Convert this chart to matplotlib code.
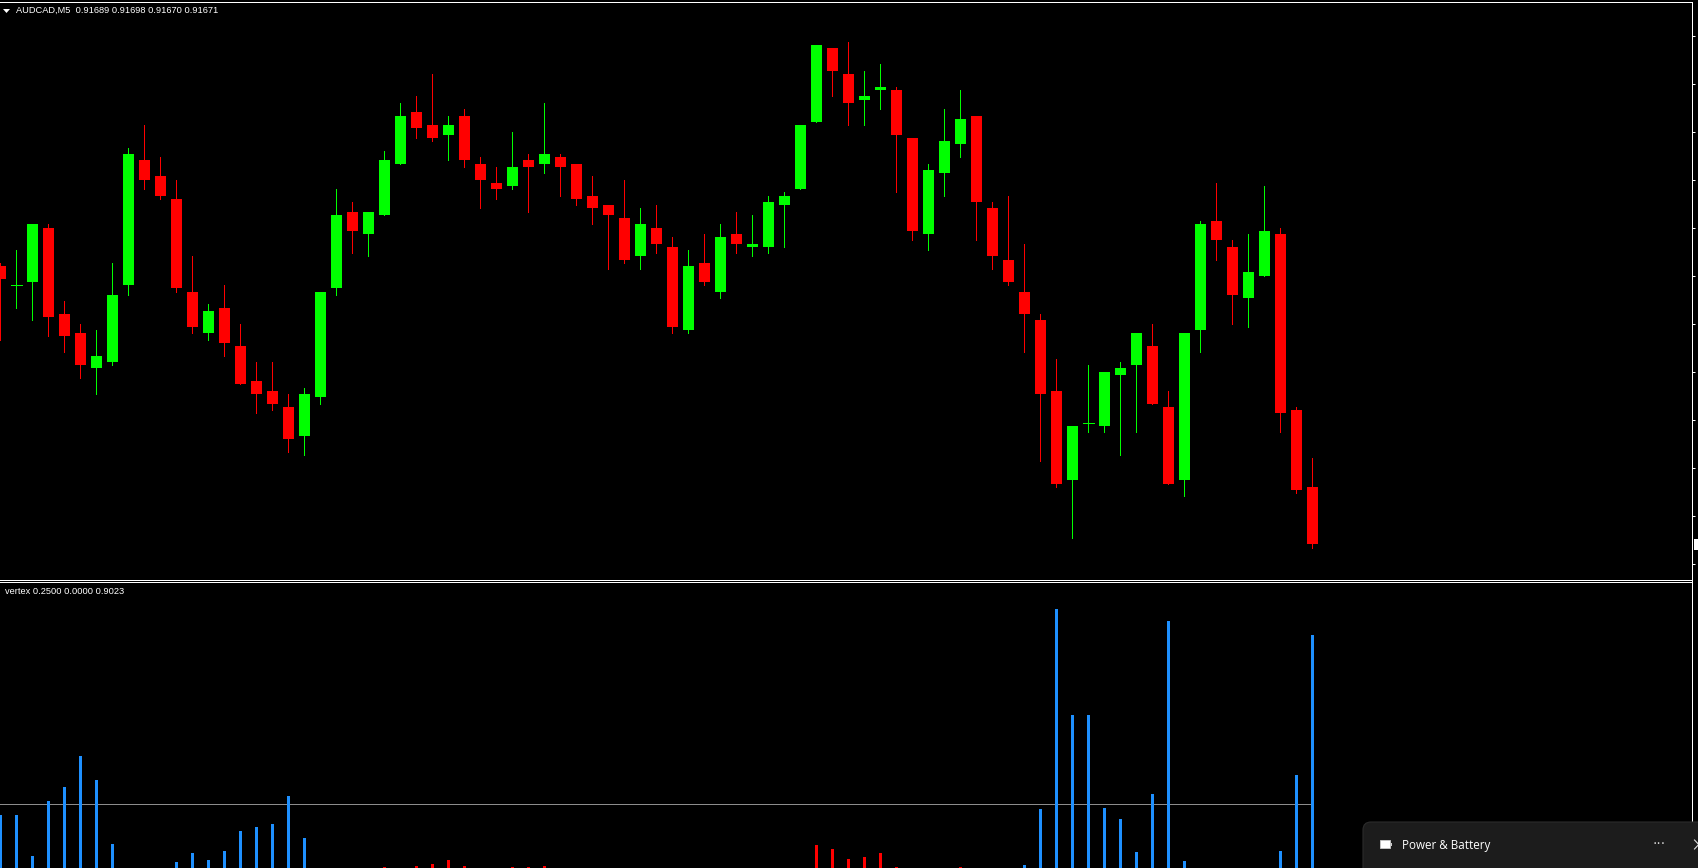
import matplotlib
matplotlib.use('Agg')
import matplotlib.pyplot as plt
from matplotlib.patches import FancyBboxPatch, Rectangle, Polygon
from matplotlib.lines import Line2D
from matplotlib.transforms import Affine2D

W, H = 1698, 868

# AUDCAD M5 candles, prices in 1e-5 units
opens = [91758, 91752, 91753, 91770, 91743, 91737, 91726, 91728, 91752, 91791,
         91786, 91779, 91750, 91737, 91745, 91733, 91722, 91719, 91714, 91705,
         91717, 91751, 91775, 91768, 91774, 91790, 91806, 91802, 91799, 91805,
         91790, 91784, 91783, 91791, 91790, 91792, 91790, 91780, 91777, 91773,
         91761, 91770, 91764, 91738, 91759, 91750, 91768, 91764, 91764, 91777,
         91782, 91803, 91826, 91818, 91810, 91813, 91813, 91798, 91768, 91787,
         91796, 91805, 91776, 91760, 91750, 91741, 91719, 91691, 91709, 91708,
         91724, 91727, 91733, 91714, 91691, 91738, 91772, 91764, 91748, 91755,
         91768, 91713, 91689]
highs = [91759, 91763, 91771, 91771, 91747, 91740, 91738, 91759, 91795, 91802,
         91792, 91785, 91761, 91746, 91752, 91740, 91728, 91728, 91718, 91720,
         91750, 91782, 91778, 91775, 91794, 91809, 91811, 91818, 91805, 91807,
         91792, 91789, 91800, 91793, 91809, 91793, 91790, 91786, 91777, 91785,
         91776, 91777, 91767, 91763, 91768, 91771, 91775, 91774, 91780, 91781,
         91802, 91827, 91826, 91828, 91819, 91821, 91814, 91798, 91790, 91807,
         91813, 91805, 91778, 91780, 91765, 91743, 91729, 91708, 91727, 91725,
         91728, 91737, 91740, 91719, 91737, 91772, 91784, 91766, 91768, 91783,
         91770, 91714, 91698]
lows = [91735, 91745, 91741, 91736, 91731, 91723, 91718, 91727, 91749, 91782,
        91779, 91750, 91737, 91735, 91730, 91721, 91712, 91713, 91700, 91699,
        91715, 91749, 91762, 91761, 91774, 91790, 91798, 91797, 91791, 91789,
        91776, 91779, 91782, 91775, 91787, 91780, 91777, 91771, 91757, 91759,
        91757, 91762, 91737, 91737, 91752, 91748, 91762, 91761, 91762, 91764,
        91782, 91803, 91811, 91802, 91802, 91807, 91781, 91766, 91763, 91780,
        91792, 91766, 91757, 91752, 91731, 91697, 91689, 91673, 91706, 91706,
        91699, 91706, 91715, 91690, 91686, 91731, 91760, 91740, 91739, 91755,
        91706, 91687, 91670]
closes = [91754, 91752, 91771, 91742, 91736, 91727, 91730, 91749, 91793, 91785,
          91780, 91751, 91739, 91744, 91734, 91721, 91718, 91715, 91704, 91718,
          91750, 91774, 91769, 91775, 91791, 91805, 91801, 91798, 91802, 91791,
          91785, 91782, 91789, 91789, 91793, 91789, 91779, 91776, 91774, 91760,
          91771, 91765, 91739, 91758, 91753, 91767, 91765, 91765, 91778, 91780,
          91802, 91827, 91819, 91809, 91811, 91814, 91799, 91769, 91788, 91797,
          91804, 91778, 91761, 91753, 91743, 91718, 91690, 91708, 91709, 91725,
          91726, 91737, 91715, 91690, 91737, 91771, 91766, 91749, 91756, 91769,
          91712, 91688, 91671]

# vertex indicator histogram
blue_idx = [0, 1, 2, 3, 4, 5, 6, 7, 11, 12, 13, 14, 15, 16, 17, 18, 19,
            64, 65, 66, 67, 68, 69, 70, 71, 72, 73, 74, 80, 81, 82]
blue_val = [0.2089, 0.2089, 0.0509, 0.2628, 0.3168, 0.4362, 0.3437, 0.0971,
            0.0277, 0.0624, 0.0355, 0.0701, 0.1472, 0.1626, 0.1742, 0.2821, 0.1202,
            0.0162, 0.2320, 1.0027, 0.5942, 0.5942, 0.2358, 0.1934, 0.0663,
            0.2898, 0.9565, 0.0316, 0.0701, 0.3630, 0.9023]
red_idx = [24, 26, 27, 28, 29, 32, 33, 34, 51, 52, 53, 54, 55, 56, 60]
red_val = [0.0085, 0.0123, 0.0200, 0.0355, 0.0123, 0.0085, 0.0085, 0.0123,
           0.0933, 0.0778, 0.0393, 0.0470, 0.0624, 0.0085, 0.0085]
level = 0.25

price_ticks = [91830, 91815, 91800, 91785, 91770, 91755, 91740, 91725, 91710, 91695, 91680, 91665]

fig = plt.figure(figsize=(W / 100, H / 100), dpi=100, facecolor='black')
plt.rcParams['font.family'] = ['Liberation Sans', 'DejaVu Sans']

# overlay transform: top-left pixel coordinates
px = Affine2D().scale(1, -1).translate(0, H)


def make_axes(top, bottom):
    ax = fig.add_axes([0, 1 - bottom / H, 1692 / W, (bottom - top) / H], facecolor='black')
    ax.set_xlim(-0.3 / 16, 1691.7 / 16)
    ax.set_xticks([])
    for side in ['left', 'bottom', 'top']:
        ax.spines[side].set_visible(False)
    ax.spines['right'].set_color('white')
    ax.spines['right'].set_linewidth(0.72)
    return ax


# price panel
ax1 = make_axes(3, 581)
ax1.set_ylim(91659.56, 91840.19)
for i in range(len(opens)):
    up = closes[i] >= opens[i]
    color = '#00ff00' if up else '#ff0000'
    ax1.vlines(i, lows[i], highs[i], color=color, linewidth=0.72, antialiased=False)
    if opens[i] == closes[i]:
        ax1.hlines(opens[i], i - 5.5 / 16, i + 5.5 / 16, color=color, linewidth=0.72, antialiased=False)
    else:
        ax1.bar(i, abs(closes[i] - opens[i]), 11 / 16, min(opens[i], closes[i]),
                color=color, linewidth=0, antialiased=False)
ax1.yaxis.tick_right()
ax1.set_yticks(price_ticks)
ax1.set_yticklabels([])
ax1.tick_params(axis='y', color='white', length=2.2, width=0.72)

# indicator panel
ax2 = make_axes(583, 868)
ax2.set_ylim((869.2 - 868) / 259.5, (869.2 - 583) / 259.5)
ax2.set_yticks([])
ax2.hlines(level, -0.3 / 16, 82, color='#8c8c8c', linewidth=0.72, antialiased=False)
ax2.bar(blue_idx, blue_val, 3 / 16, color='#1e90ff', linewidth=0, antialiased=False, zorder=3)
ax2.bar(red_idx, red_val, 3 / 16, color='#ff0000', linewidth=0, antialiased=False, zorder=3)

# frame lines of both panels, one pixel each
for row in [2, 580, 582]:
    fig.add_artist(Rectangle((0, row), 1693, 1, transform=px, facecolor='white', edgecolor='none',
                             antialiased=False, zorder=4))

# chart labels
fig.text(15.5, 10.5, 'AUDCAD,M5  0.91689 0.91698 0.91670 0.91671', transform=px, color='white',
         fontsize=6.7, va='center', ha='left')
fig.text(5, 592, 'vertex 0.2500 0.0000 0.9023', transform=px, color='white',
         fontsize=6.7, va='center', ha='left')
fig.add_artist(Polygon([(3, 9), (10, 9), (6.5, 13)], closed=True, transform=px, facecolor='white',
                       edgecolor='none'))

# bid marker on the price scale
fig.add_artist(Rectangle((1694, 539), 4, 11, transform=px, facecolor='white', edgecolor='none'))

# Windows notification popup
popup = FancyBboxPatch((1363, 822), 360, 80, boxstyle='round,pad=0,rounding_size=8',
                       transform=px, facecolor='#1c1c1c', edgecolor='#2c2c2c', linewidth=0.8, zorder=5)
fig.add_artist(popup)
fig.add_artist(Rectangle((1380, 840), 10, 8, transform=px, facecolor='white', edgecolor='#cccccc',
                         linewidth=0.6, zorder=6))
fig.add_artist(Rectangle((1390.5, 842.5), 1.5, 3, transform=px, facecolor='#cccccc', edgecolor='none', zorder=6))
fig.text(1402, 846, 'Power & Battery', transform=px, color='white', fontsize=8.4, family='Open Sans',
         va='center', ha='left', zorder=6)
fig.text(1659, 844, '\u00b7\u00b7\u00b7', transform=px, color='#d0d0d0', fontsize=10, family='DejaVu Sans',
         va='center', ha='center', zorder=6)
fig.add_artist(Line2D([1694.5, 1703], [840, 849], transform=px, color='#e0e0e0', linewidth=0.8, zorder=6))
fig.add_artist(Line2D([1694.5, 1703], [849, 840], transform=px, color='#e0e0e0', linewidth=0.8, zorder=6))

fig.savefig('out.png', dpi=100, facecolor='black')
